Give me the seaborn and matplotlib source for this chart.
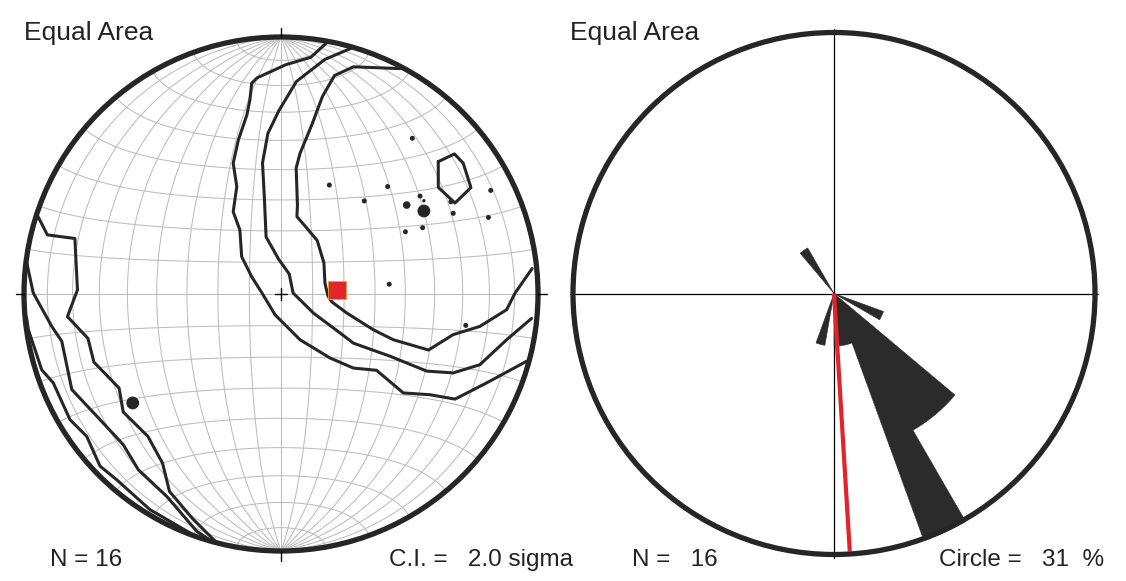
import numpy as np
import pandas as pd
import matplotlib
matplotlib.use("Agg")
import matplotlib.pyplot as plt
from matplotlib.patches import Polygon, Circle
import seaborn as sns

W, H = 1126, 581

# poles (x = east, y = north, primitive = unit circle)
pole_x = [0.511, 0.188, 0.415, 0.324, 0.541, 0.556, 0.489, 0.556, 0.661,
          0.670, 0.816, 0.807, 0.484, 0.551, 0.421, 0.719, -0.577]
pole_y = [0.606, 0.424, 0.418, 0.362, 0.381, 0.363, 0.346, 0.323, 0.359,
          0.314, 0.403, 0.298, 0.242, 0.258, 0.038, -0.122, -0.424]
pole_kind = ["small", "small", "small", "small", "small", "tiny", "medium", "large", "small",
             "small", "small", "small", "small", "small", "small", "small", "large"]

max_x = [0.218]
max_y = [0.014]

# contour lines (2 sigma interval)
cont_a_x = [0.178, 0.116, 0.018, -0.093, -0.114, -0.121, -0.133, -0.166, -0.186, -0.172, -0.186,
            -0.160, -0.153, -0.114, -0.074, -0.023, 0.074, 0.191, 0.281, 0.372, 0.476, 0.580,
            0.677, 0.800, 0.957]
cont_a_y = [0.978, 0.921, 0.892, 0.841, 0.820, 0.755, 0.696, 0.599, 0.509, 0.418, 0.320,
            0.249, 0.145, 0.067, 0.004, -0.081, -0.178, -0.249, -0.288, -0.297, -0.385, -0.392,
            -0.409, -0.346, -0.261]
cont_b_x = [0.275, 0.171, 0.060, -0.009, -0.051, -0.072, -0.065, -0.058, -0.009, 0.032, 0.047,
            0.126, 0.241, 0.281, 0.424, 0.567, 0.670, 0.774, 0.878, 0.975]
cont_b_y = [0.957, 0.913, 0.827, 0.712, 0.625, 0.510, 0.380, 0.222, 0.135, 0.078, 0.004,
            -0.074, -0.160, -0.191, -0.242, -0.300, -0.307, -0.275, -0.178, -0.095]
cont_c_x = [0.463, 0.282, 0.208, 0.161, 0.121, 0.074, 0.059, 0.064, 0.062, 0.100, 0.141, 0.167,
            0.171, 0.183, 0.198, 0.256, 0.359, 0.437, 0.574, 0.670, 0.774, 0.878, 0.911, 0.977]
cont_c_y = [0.877, 0.884, 0.850, 0.768, 0.661, 0.547, 0.490, 0.346, 0.301, 0.257, 0.208, 0.121,
            0.042, -0.008, -0.031, -0.074, -0.139, -0.178, -0.218, -0.158, -0.126, -0.061, 0.004,
            0.099]
cont_d1_x = [-0.950, -0.909, -0.802, -0.792, -0.831, -0.751, -0.728, -0.630, -0.614, -0.518,
             -0.461, -0.434, -0.345, -0.256]
cont_d1_y = [0.310, 0.230, 0.216, 0.016, -0.088, -0.173, -0.265, -0.366, -0.459, -0.554,
             -0.658, -0.768, -0.873, -0.962]
cont_d2_x = [-0.990, -0.964, -0.892, -0.853, -0.814, -0.704, -0.614, -0.555, -0.445, -0.328, -0.270]
cont_d2_y = [0.125, 0.004, -0.126, -0.184, -0.372, -0.489, -0.586, -0.684, -0.787, -0.923, -0.962]
cont_d3_x = [-0.990, -0.983, -0.931, -0.886, -0.821, -0.756, -0.704, -0.639, -0.510, -0.345]
cont_d3_y = [-0.093, -0.139, -0.295, -0.346, -0.489, -0.554, -0.670, -0.723, -0.839, -0.935]
cont_e_x = [0.612, 0.675, 0.709, 0.739, 0.677, 0.612, 0.612]
cont_e_y = [0.515, 0.545, 0.509, 0.414, 0.354, 0.415, 0.515]

# rose diagram (azimuth bins, 10 degrees)
rose_bin_start = [110, 130, 140, 150, 160, 170, 190, 320]
rose_count = [1, 3, 3, 5, 1, 1, 1, 1]
rose_bin_width = 10
n_data = 16
circle_pct = 31
mean_azimuth = 176.5
ci_sigma = 2.0

sns.set_theme(style="white")
plt.rcParams["font.family"] = ["Liberation Sans", "DejaVu Sans"]

ink = "#262626"
fig = plt.figure(figsize=(W / 100, H / 100), dpi=100)


def place_axes(cx, cy, r):
    half = 1.1 * r
    ax = fig.add_axes([(cx - half) / W, (H - cy - half) / H, 2 * half / W, 2 * half / H])
    ax.set_xlim(-1.1, 1.1)
    ax.set_ylim(-1.1, 1.1)
    ax.axis("off")
    ax.patch.set_alpha(0)
    return ax


def project(e, n, d):
    # equal area (Schmidt), lower hemisphere
    k = 1 / np.sqrt(1 + d)
    return e * k, n * k


# ---------- left: equal area net ----------
ax1 = place_axes(281, 294, 257)
t = np.linspace(0, np.pi, 241)
for deg in range(10, 180, 10):
    a = np.radians(deg)
    gx, gy = project(np.sin(t) * np.cos(a), np.cos(t), np.sin(t) * np.sin(a))
    ax1.plot(gx, gy, color="#bdbdbd", lw=0.75, zorder=1)
    sx, sy = project(np.sin(a) * np.cos(t), np.full_like(t, np.cos(a)), np.sin(a) * np.sin(t))
    ax1.plot(sx, sy, color="#bdbdbd", lw=0.75, zorder=1)

for cx, cy in [(cont_a_x, cont_a_y), (cont_b_x, cont_b_y), (cont_c_x, cont_c_y),
               (cont_d1_x, cont_d1_y), (cont_d2_x, cont_d2_y), (cont_d3_x, cont_d3_y),
               (cont_e_x, cont_e_y)]:
    sns.lineplot(x=cx, y=cy, sort=False, estimator=None, color=ink, lw=2.2, ax=ax1, zorder=3)

poles = pd.DataFrame({"x": pole_x, "y": pole_y, "kind": pole_kind})
sns.scatterplot(data=poles, x="x", y="y", size="kind",
                sizes={"tiny": 6, "small": 13, "medium": 30, "large": 85},
                color=ink, edgecolor="none", legend=False, ax=ax1, zorder=4)
sns.scatterplot(x=max_x, y=max_y, marker="s", s=185, color="#e2262b",
                edgecolor="#f0a030", linewidth=0.6, ax=ax1, zorder=5)

ax1.add_patch(Circle((0, 0), 1, fill=False, ec=ink, lw=3.8, zorder=6))
tick = dict(color="black", lw=1.0, zorder=6)
ax1.plot([0, 0], [1, 1.035], **tick)
ax1.plot([0, 0], [-1, -1.04], **tick)
ax1.plot([-1, -1.03], [0, 0], **tick)
ax1.plot([1, 1.035], [0, 0], **tick)
ax1.plot([-0.025, 0.025], [0, 0], **tick)
ax1.plot([0, 0], [-0.025, 0.025], **tick)

# ---------- right: rose diagram ----------
ax2 = place_axes(834, 293.5, 261)
ax2.plot([-1.013, 1.013], [0, 0], color="black", lw=0.9, zorder=1)
ax2.plot([0, 0], [-1.013, 1.013], color="black", lw=0.9, zorder=1)

# one outline for all petals, so adjacent bins do not show seams
verts = []
prev_end = None
for start, cnt in sorted(zip(rose_bin_start, rose_count)):
    r = cnt / n_data * 100 / circle_pct
    if start != prev_end:
        verts.append((0.0, 0.0))
    az = np.radians(np.linspace(start, start + rose_bin_width, 12))
    verts.extend(zip(r * np.sin(az), r * np.cos(az)))
    prev_end = start + rose_bin_width
ax2.add_patch(Polygon(verts, closed=True, fc="#2b2b2b", ec="#2b2b2b", lw=0.4, zorder=2))

az = np.radians(mean_azimuth)
ax2.plot([0, 0.99 * np.sin(az)], [0, 0.99 * np.cos(az)], color="#e3242b", lw=3.0,
         solid_capstyle="butt", zorder=3)
ax2.add_patch(Circle((0, 0), 1, fill=False, ec=ink, lw=3.8, zorder=4))

# ---------- labels ----------
txt = dict(fontsize=17.5, color="#222222", va="baseline", ha="left")
fig.text(24 / W, 1 - 40 / H, "Equal Area", **dict(txt, fontsize=19))
fig.text(570 / W, 1 - 40 / H, "Equal Area", **dict(txt, fontsize=19))
fig.text(50 / W, 1 - 566 / H, f"N = {n_data}", **txt)
fig.text(389 / W, 1 - 566 / H, f"C.I. =   {ci_sigma:.1f} sigma", **txt)
fig.text(632 / W, 1 - 566 / H, f"N =   {n_data}", **txt)
fig.text(939 / W, 1 - 566 / H, f"Circle =   {circle_pct}  %", **txt)

fig.savefig("out.png", dpi=100, facecolor="white")
